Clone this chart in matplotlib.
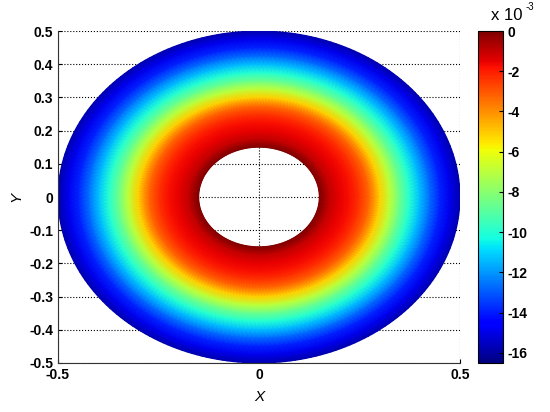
import numpy as np
import matplotlib
matplotlib.use("Agg")
import matplotlib.pyplot as plt

plt.rcParams['font.family'] = ['Liberation Sans', 'DejaVu Sans']

# radial profile of the field (values in units of 1e-3)
radii = [0.15, 0.175, 0.2, 0.225, 0.25, 0.275, 0.3, 0.325, 0.35,
         0.375, 0.4, 0.425, 0.45, 0.475, 0.5]
values = [0.0, -1.0, -1.5, -1.8, -2.4, -3.4, -5.1, -6.9, -8.6,
          -10.0, -11.4, -12.7, -13.9, -14.9, -15.8]
scale = 1e-3
clim = [-16.5, 0.0]
cbar_ticks = [0, -2, -4, -6, -8, -10, -12, -14, -16]
yticks = [-0.5, -0.4, -0.3, -0.2, -0.1, 0, 0.1, 0.2, 0.3, 0.4, 0.5]
xticks = [-0.5, 0, 0.5]

theta = np.linspace(0, 2 * np.pi, 241)
R, T = np.meshgrid(np.array(radii), theta)
Z = np.tile(np.array(values) * scale, (len(theta), 1))
X = R * np.cos(T)
Y = R * np.sin(T)

fig = plt.figure(figsize=(5.5, 4.12), dpi=100)
ax = fig.add_axes([58 / 550, 1 - 363 / 412, 402 / 550, 332 / 412])
cax = fig.add_axes([478 / 550, 1 - 363 / 412, 25 / 550, 332 / 412])

mesh = ax.pcolormesh(X, Y, Z, cmap='jet', shading='gouraud',
                     vmin=clim[0] * scale, vmax=clim[1] * scale)

ax.set_xlim(-0.5, 0.5)
ax.set_ylim(-0.5, 0.5)
ax.set_xticks(xticks)
ax.set_yticks(yticks)
ax.set_xticklabels(['-0.5', '0', '0.5'], fontweight='bold')
ax.set_yticklabels(['-0.5', '-0.4', '-0.3', '-0.2', '-0.1', '0',
                    '0.1', '0.2', '0.3', '0.4', '0.5'], fontweight='bold')
ax.set_axisbelow(True)
ax.grid(True, linestyle=':', color='k', linewidth=0.8)
ax.spines['top'].set_visible(False)
ax.spines['right'].set_visible(False)
for s in ('left', 'bottom'):
    ax.spines[s].set_color('#333333')
ax.tick_params(direction='in', length=3, labelsize=10, colors='k')
ax.set_xlabel('X', fontsize=11, style='italic', labelpad=6)
ax.set_ylabel('Y', fontsize=11, style='italic', labelpad=4)

cb = fig.colorbar(mesh, cax=cax)
cb.set_ticks([t * scale for t in cbar_ticks])
cb.set_ticklabels([str(t) for t in cbar_ticks])
for lab in cb.ax.get_yticklabels():
    lab.set_fontweight('bold')
cb.ax.tick_params(direction='in', length=3, labelsize=10)
cb.outline.set_linewidth(0.8)
fig.text(507 / 550, 1 - 16 / 412, 'x 10', fontsize=12, ha='center', va='center')
fig.text(530 / 550, 1 - 7 / 412, '-3', fontsize=7, ha='center', va='center')

fig.savefig('out.png', dpi=100)
